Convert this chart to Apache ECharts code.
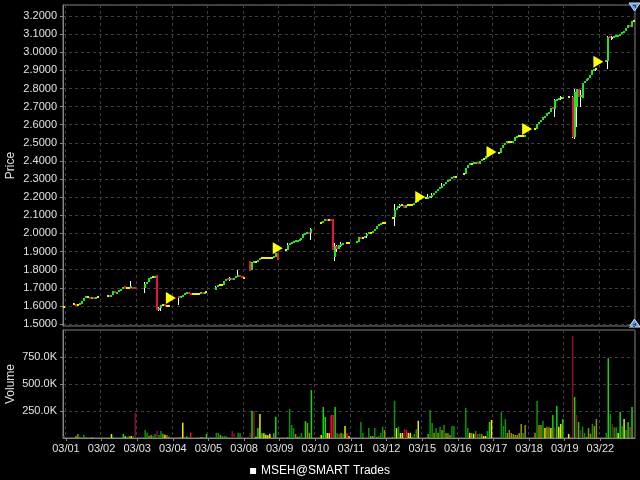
<!DOCTYPE html>
<html><head><meta charset="utf-8">
<script src="https://cdn.jsdelivr.net/npm/echarts@6/dist/echarts.min.js"></script>
<style>html,body{margin:0;padding:0;background:#000}#c{width:640px;height:480px}</style>
</head><body><div id="c"></div>
<script>
const dayLabels = ['03/01','03/02','03/03','03/04','03/05','03/08','03/09','03/10','03/11','03/12','03/15','03/16','03/17','03/18','03/19','03/22'];

// close of each bar slot (null = no bar)
const closes = [
 1.596,null,null,null,null,1.610,1.605,1.605,1.612,1.625,1.645,1.648,1.648,1.640,1.645,1.640,1.648,1.648,
 null,null,null,null,1.655,1.650,1.660,1.680,1.672,1.675,1.685,1.695,1.705,1.700,1.700,1.700,1.705,1.698,
 1.695,null,null,null,null,1.720,1.730,1.755,1.758,1.758,1.765,1.580,1.590,1.605,1.605,1.600,1.600,1.600,
 null,null,null,null,1.645,1.648,1.658,1.668,1.672,1.668,1.665,1.665,1.665,1.665,1.665,1.674,1.670,1.675,
 1.675,null,null,null,null,1.705,1.715,1.715,1.715,1.735,1.750,1.745,1.748,1.745,1.755,1.760,1.768,1.760,
 1.755,1.755,null,null,1.790,1.840,1.845,1.845,1.855,1.865,1.865,1.865,1.865,1.865,1.865,1.865,1.870,1.890,
 1.855,null,null,null,1.910,1.935,1.945,1.950,1.955,1.958,1.962,1.965,1.975,1.995,2.000,2.002,2.000,2.025,
 null,null,null,null,2.055,2.068,2.078,2.075,2.075,2.070,1.910,1.930,1.915,1.935,1.940,1.945,null,1.948,
 1.948,null,null,null,1.955,1.978,1.975,1.975,1.985,1.995,2.005,2.005,2.015,2.025,2.040,2.050,2.058,2.058,
 2.058,null,null,null,2.085,2.130,2.140,2.150,2.155,2.155,2.140,2.155,2.155,2.155,2.155,2.170,2.178,2.180,
 null,null,null,2.195,2.200,2.205,2.212,2.222,2.235,2.245,2.255,2.262,2.275,2.285,2.292,2.300,2.308,2.310,
 2.310,null,null,null,2.330,2.360,2.380,2.385,2.385,2.388,2.390,2.385,2.400,2.410,2.410,2.425,2.435,2.440,
 null,null,null,null,2.445,2.470,2.490,2.500,2.505,2.505,2.505,2.508,2.530,2.538,2.538,2.538,2.538,2.540,
 null,null,null,null,2.577,2.605,2.615,2.625,2.640,2.650,2.665,2.668,2.695,2.685,2.735,2.740,2.745,2.745,
 2.748,null,null,2.755,null,2.530,2.780,2.800,2.755,2.765,2.830,2.840,2.850,2.860,2.875,2.900,2.908,2.908,
 null,null,null,null,2.955,3.085,3.080,3.080,3.085,3.090,3.095,3.100,3.108,3.120,3.132,3.150,3.142,3.175,3.175
];

// bars whose open differs from the previous close: [slot, open]
const openOverrides = [[41,1.700],[47,1.770],[48,1.575],[58,1.652],[77,1.690],[94,1.848],[95,1.800],
 [107,1.870],[108,1.890],[125,2.005],[136,2.080],[137,1.870],[148,1.945],[167,2.090],[247,2.700],
 [257,2.755],[259,2.700],[262,2.750],[274,2.945],[275,2.950]];

// high/low lines: [slot, low, high]
const wicks = [[34,1.700,1.737],[41,1.670,1.734],[48,1.572,1.592],[49,1.574,1.605],[58,1.607,1.652],
 [77,1.685,1.712],[84,1.740,1.758],[88,1.760,1.800],[113,1.915,1.945],[125,1.965,2.030],[137,1.850,1.945],
 [138,1.900,1.935],[140,1.925,1.955],[153,1.975,2.000],[167,2.040,2.160],[170,2.140,2.165],[184,2.190,2.220],
 [186,2.195,2.222],[191,2.250,2.280],[248,2.645,2.740],[251,2.735,2.760],[257,2.525,2.760],[258,2.520,2.800],
 [259,2.590,2.800],[261,2.700,2.790],[269,2.895,2.910],[275,2.905,3.090],[277,3.070,3.090]];

// volume per slot, thousands
const volumes = [
 18,0,0,0,0,0,18,37,15,0,28,10,5,0,8,0,0,0,
 0,0,0,0,0,0,37,12,0,0,0,0,37,15,12,18,18,15,
 234,0,0,0,0,74,50,18,28,18,37,68,28,65,40,30,25,12,
 0,0,0,0,12,10,142,10,15,10,50,10,0,0,0,8,8,6,
 37,0,0,0,0,48,48,28,18,18,18,0,0,65,44,0,48,44,
 18,0,0,0,48,253,250,12,93,222,44,44,30,25,40,0,44,197,
 0,0,0,0,0,8,268,120,92,37,12,18,46,0,157,138,48,444,
 0,0,0,0,28,287,194,46,46,213,213,287,46,40,46,40,111,46,
 18,0,0,0,0,0,148,46,15,15,92,18,18,92,10,18,46,105,
 74,0,0,0,10,345,92,105,46,46,83,74,48,48,10,37,83,160,
 0,0,0,0,37,259,139,48,92,48,105,74,120,46,44,28,111,111,
 0,0,0,0,8,278,92,48,46,40,65,37,40,37,18,18,65,148,
 167,0,0,0,0,240,111,176,46,74,46,37,28,28,46,130,46,120,
 0,0,0,0,48,343,120,120,160,92,105,100,92,213,100,296,105,130,
 176,8,0,37,0,944,380,213,148,74,105,46,10,92,40,130,111,176,
 0,0,0,0,46,740,222,130,100,100,46,240,111,176,74,148,105,287,0
];

// trade markers: [slot, price]
const markers = [[54,1.644],[108,1.918],[180,2.201],[216,2.450],[234,2.577],[270,2.948]];

// volume bar colour codes (style only)
const volumeColorCodes = [
 'g.....yyg.ggr.y...','......Yg....GYgyYg','r....ggyyggrggyYyy','....RgYgGgRr...yyR',
 'G....ggyggg..rr.gg','r...rGrYGYGYYYY.yG','.....ygggyygg.GyyG','....YGGYYRRGgRGgYR',
 'Y.....ggrrgyygyggg','y...ygYgYYrRYYyggY','....yggygygygyyygg','....rggYyYgRgyYYgG',
 'Y....gggyyyyyyyygy','....ygyygYyyYGrGYY','Gr.Y.rGrGrggyyygyy','....gGgrggYGgYgGRG.'
].join('');
const volPalette = {G:'#12d612', g:'#0a940a', Y:'#ecec00', y:'#929200', R:'#e8123e', r:'#8e0c2c'};
const barPalette = ['#f2f200', '#22e422', '#e8123e'];

const cats = closes.map((_, i) => (i % 18 === 1 && dayLabels[Math.floor(i / 18)]) ? dayLabels[Math.floor(i / 18)] : '');
const isDayTick = (i) => i % 18 === 1 && i < 18 * dayLabels.length;

const openMap = new Map(openOverrides);
const barData = [];
let prev = null;
closes.forEach((c, i) => {
  if (c === null) { prev = null; return; }
  const o = openMap.has(i) ? openMap.get(i) : (prev === null ? c : prev);
  const dir = c > o + 1e-9 ? 1 : (c < o - 1e-9 ? 2 : 0);
  barData.push([i, o, c, dir]);
  prev = c;
});

const volData = volumes.map((v, i) => v > 0 ? {value: v, itemStyle: {color: volPalette[volumeColorCodes[i]] || '#0a940a'}} : '-');

const FONT = '"Liberation Sans", Arial, sans-serif';
const labelColor = '#e2e2e2';
const gridLine = {show: true, lineStyle: {color: '#3e3e3e', type: [3, 3], width: 1}};

const chart = echarts.init(document.getElementById('c'), null, {renderer: 'canvas'});
chart.setOption({
  animation: false,
  backgroundColor: '#000',
  textStyle: {fontFamily: FONT},
  grid: [
    {left: 63, width: 572, top: 5, height: 321, show: true, borderColor: '#858585', borderWidth: 1, backgroundColor: '#000', containLabel: false, outerBoundsMode: 'none'},
    {left: 63, width: 572, top: 330, height: 108, show: true, borderColor: '#858585', borderWidth: 1, backgroundColor: '#000', containLabel: false, outerBoundsMode: 'none'}
  ],
  legend: {
    top: 460, left: 'center', selectedMode: false, itemWidth: 6, itemHeight: 6, itemGap: 6,
    data: [{name: 'MSEH@SMART Trades', icon: 'rect'}],
    textStyle: {color: '#ffffff', fontSize: 12, fontFamily: FONT}
  },
  xAxis: [
    {type: 'category', gridIndex: 0, data: cats, boundaryGap: true,
     axisLine: {show: false}, axisTick: {show: false}, axisLabel: {show: false},
     splitLine: Object.assign({interval: (i) => isDayTick(i)}, gridLine)},
    {type: 'category', gridIndex: 1, data: cats, boundaryGap: true,
     axisLine: {show: true, lineStyle: {color: '#858585'}},
     axisTick: {show: true, interval: (i) => isDayTick(i), alignWithLabel: true, length: 3, lineStyle: {color: '#858585'}},
     axisLabel: {show: true, interval: (i) => isDayTick(i), color: labelColor, fontSize: 11, margin: 5, fontFamily: FONT},
     splitLine: Object.assign({interval: (i) => isDayTick(i)}, gridLine)}
  ],
  yAxis: [
    {type: 'value', gridIndex: 0, min: 1.489, max: 3.261, splitNumber: 17, position: 'left',
     name: 'Price', nameLocation: 'middle', nameRotate: 90, nameGap: 46, nameMoveOverlap: false,
     nameTextStyle: {color: labelColor, fontSize: 12, fontFamily: FONT},
     axisLine: {show: true, lineStyle: {color: '#858585'}},
     axisTick: {show: true, length: 3, lineStyle: {color: '#858585'}},
     axisLabel: {color: labelColor, fontSize: 11, margin: 6, fontFamily: FONT, showMinLabel: false, showMaxLabel: false,
       formatter: (v) => (Math.abs(v * 10 - Math.round(v * 10)) < 1e-6) ? v.toFixed(4) : ''},
     splitLine: gridLine},
    {type: 'value', gridIndex: 1, min: 0, max: 1000, interval: 250, position: 'left',
     name: 'Volume', nameLocation: 'middle', nameRotate: 90, nameGap: 46, nameMoveOverlap: false,
     nameTextStyle: {color: labelColor, fontSize: 12, fontFamily: FONT},
     axisLine: {show: true, lineStyle: {color: '#858585'}},
     axisTick: {show: true, length: 3, lineStyle: {color: '#858585'}},
     axisLabel: {color: labelColor, fontSize: 11, margin: 6, fontFamily: FONT, showMinLabel: false, showMaxLabel: false,
       formatter: (v) => v.toFixed(1) + 'K'},
     splitLine: gridLine}
  ],
  series: [
    {type: 'custom', name: 'wicks', xAxisIndex: 0, yAxisIndex: 0, clip: true, silent: true,
     data: wicks, encode: {x: 0, y: [1, 2]},
     renderItem: (params, api) => {
       const a = api.coord([api.value(0), api.value(2)]);
       const b = api.coord([api.value(0), api.value(1)]);
       const x = Math.round(a[0]) - 0.5;
       return {type: 'line', shape: {x1: x, y1: Math.round(a[1]), x2: x, y2: Math.round(b[1])},
               style: {stroke: '#ffffff', lineWidth: 1}};
     }},
    {type: 'custom', name: 'MSEH@SMART Trades', xAxisIndex: 0, yAxisIndex: 0, clip: true,
     itemStyle: {color: '#ffffff'},
     data: barData, encode: {x: 0, y: [1, 2]},
     renderItem: (params, api) => {
       const i = api.value(0), o = api.value(1), c = api.value(2), d = api.value(3);
       const a = api.coord([i, Math.max(o, c)]);
       const b = api.coord([i, Math.min(o, c)]);
       let y0 = Math.round(a[1]), y1 = Math.round(b[1]);
       if (y1 - y0 < 2) { const m = Math.round((a[1] + b[1]) / 2); y0 = m - 1; y1 = m + 1; }
       return {type: 'rect', shape: {x: Math.round(a[0]) - 1, y: y0, width: 2, height: y1 - y0},
               style: {fill: barPalette[d]}};
     }},
    {type: 'scatter', name: 'markers', xAxisIndex: 0, yAxisIndex: 0, silent: true,
     data: markers, symbol: 'path://M0,0 L10,5 L0,10 Z', symbolSize: [10, 12],
     itemStyle: {color: '#ffff00', opacity: 1}},
    {type: 'bar', name: 'volume', xAxisIndex: 1, yAxisIndex: 1, barWidth: 1.5, silent: true,
     data: volData}
  ],
  graphic: [
    {type: 'polygon', shape: {points: [[629, 3], [640, 3], [634.5, 11]]}, style: {fill: '#5f9fe0', stroke: '#d0e4ff', lineWidth: 1}},
    {type: 'polygon', shape: {points: [[629, 327], [640, 327], [634.5, 319]]}, style: {fill: '#5f9fe0', stroke: '#d0e4ff', lineWidth: 1}}
  ]
});
</script>
</body></html>
